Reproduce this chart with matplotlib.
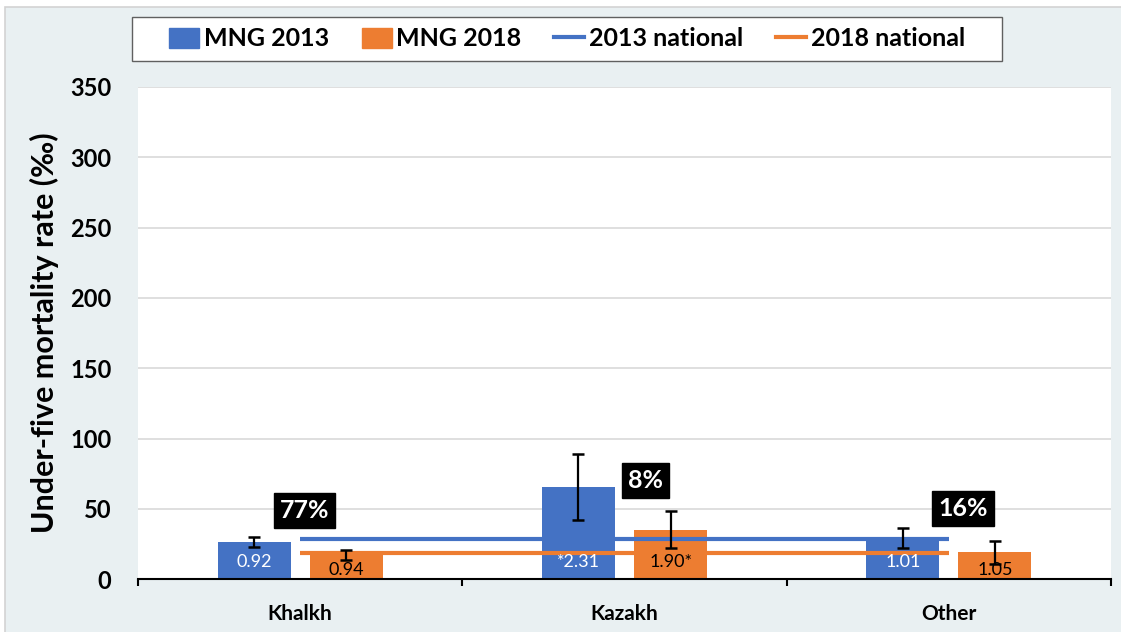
import matplotlib
matplotlib.use("Agg")
import matplotlib.pyplot as plt
from matplotlib.patches import Patch, Rectangle
from matplotlib.lines import Line2D
import numpy as np

plt.rcParams['font.family'] = ['Lato', 'DejaVu Sans']

# ---------------- data ----------------
categories = ["Khalkh", "Kazakh", "Other"]
mng_2013 = [26.3, 65.5, 29.3]
mng_2018 = [17.0, 34.8, 19.2]
ci_2013_low = [22.7, 42.4, 22.0]
ci_2013_high = [30.0, 89.0, 36.4]
ci_2018_low = [13.5, 22.0, 11.0]
ci_2018_high = [21.0, 48.3, 27.5]
national_2013 = 29.0
national_2018 = 18.5
labels_2013 = ["0.92", "*2.31", "1.01"]
labels_2018 = ["0.94", "1.90*", "1.05"]
shares = ["77%", "8%", "16%"]
y_ticks = [0, 50, 100, 150, 200, 250, 300, 350]

BLUE = "#4472C4"
ORANGE = "#ED7D31"
BG = "#E9F0F2"

fig = plt.figure(figsize=(11.21, 6.32), dpi=100)
fig.patch.set_facecolor("white")
bg = Rectangle((5 / 1121, -0.01), 1.1, 1 - 7 / 632 + 0.01,
               transform=fig.transFigure, facecolor=BG,
               edgecolor="#D3D3D3", linewidth=1.2, zorder=-10)
fig.patches.append(bg)

ax = fig.add_axes([138 / 1121, (632 - 579.3) / 632, 973 / 1121, (579.3 - 87) / 632])
ax.set_zorder(1)
ax.set_facecolor("white")

x = np.arange(len(categories))
off = 0.142
w = 0.225

m13 = np.array(mng_2013)
m18 = np.array(mng_2018)
err13 = [m13 - np.array(ci_2013_low), np.array(ci_2013_high) - m13]
err18 = [m18 - np.array(ci_2018_low), np.array(ci_2018_high) - m18]

ax.bar(x - off, m13, w, color=BLUE, zorder=2)
ax.bar(x + off, m18, w, color=ORANGE, zorder=2)

# national lines
ax.plot([x[0], x[-1]], [national_2013] * 2, color=BLUE, lw=3, zorder=3, solid_capstyle='butt')
ax.plot([x[0], x[-1]], [national_2018] * 2, color=ORANGE, lw=3, zorder=3, solid_capstyle='butt')

ax.errorbar(x - off, m13, yerr=err13, fmt='none', ecolor='black', elinewidth=1.6,
            capsize=4, capthick=1.8, zorder=5)
ax.errorbar(x + off, m18, yerr=err18, fmt='none', ecolor='black', elinewidth=1.6,
            capsize=4, capthick=1.8, zorder=5)

# bar labels (inside base)
for xi, v, lab in zip(x - off, m13, labels_2013):
    ax.text(xi, 12 if v >= 20 else 6.3, lab, ha='center', va='center',
            color='white', fontsize=13, zorder=4)
for xi, v, lab in zip(x + off, m18, labels_2018):
    ax.text(xi, 12 if v >= 20 else 6.3, lab, ha='center', va='center',
            color='black', fontsize=13, zorder=4)

# share boxes
share_pos = [(0.014, 48.6), (1.066, 69.9), (2.043, 50.4)]
for (sx, sy), s in zip(share_pos, shares):
    ax.text(sx, sy, s, ha='center', va='center', color='white', fontsize=18,
            fontweight='bold', zorder=6,
            bbox=dict(boxstyle='square,pad=0.24', facecolor='black', edgecolor='black'))

ax.set_xlim(-0.5, 2.5)
ax.set_ylim(0, 350)
ax.set_yticks(y_ticks)
ax.set_yticklabels([str(t) for t in y_ticks], fontsize=17, fontweight='bold')
ax.tick_params(axis='y', length=0, pad=19)
ax.yaxis.grid(True, color="#D9D9D9", lw=1.2, zorder=0)
ax.set_axisbelow(True)

ax.set_xticks([-0.5, 0.5, 1.5, 2.5])
ax.set_xticklabels([])
ax.tick_params(axis='x', which='major', length=5, width=1.5, direction='out')
ax.set_xticks(x, minor=True)
ax.set_xticklabels(categories, minor=True, fontsize=15, fontweight='bold')
ax.tick_params(axis='x', which='minor', length=0, pad=18)

for s in ['top', 'right', 'left']:
    ax.spines[s].set_visible(False)
ax.spines['bottom'].set_linewidth(1.5)

ax.set_ylabel("Under-five mortality rate (‰)", fontsize=22, fontweight='bold', labelpad=8)

handles = [Patch(color=BLUE), Patch(color=ORANGE),
           Line2D([], [], color=BLUE, lw=3), Line2D([], [], color=ORANGE, lw=3)]
names = ["MNG 2013", "MNG 2018", "2013 national", "2018 national"]
leg = fig.legend(handles, names, loc='center', ncol=4,
                 bbox_to_anchor=(132 / 1121, 1 - 61 / 632, 870 / 1121, 44 / 632),
                 frameon=False, prop={'weight': 'bold', 'size': 18},
                 handlelength=1.2, handleheight=0.9,
                 handletextpad=0.2, columnspacing=1.3, borderaxespad=0)
fig.patches.append(Rectangle((132 / 1121, 1 - 61 / 632), 870 / 1121, 44 / 632,
                             transform=fig.transFigure, facecolor='white',
                             edgecolor="#606060", linewidth=1.0, zorder=-5))

fig.savefig("out.png", dpi=100, facecolor=fig.get_facecolor())
